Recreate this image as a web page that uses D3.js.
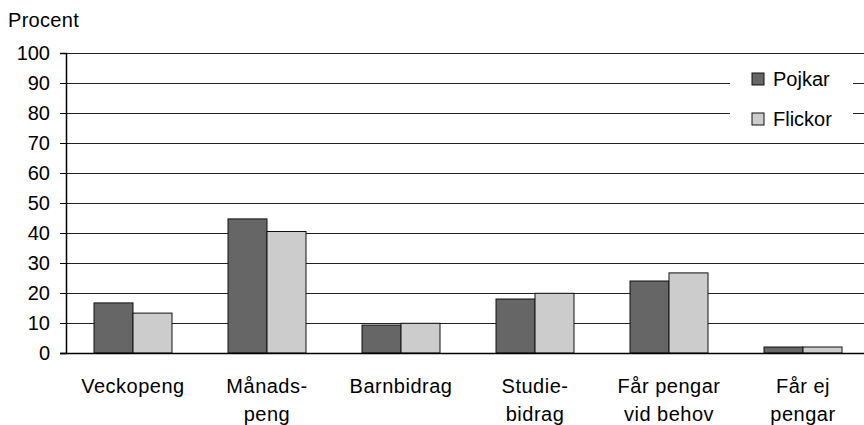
<!DOCTYPE html>
<html>
<head>
<meta charset="utf-8">
<script src="https://cdn.jsdelivr.net/npm/d3@7"></script>
<style>
  body { margin: 0; background: #fff; }
  text { font-family: "Liberation Sans", Arial, sans-serif; fill: #000; }
</style>
</head>
<body>
<div id="chart"></div>
<script>
const categories = [["Veckopeng"], ["Månads-", "peng"], ["Barnbidrag"], ["Studie-", "bidrag"], ["Får pengar", "vid behov"], ["Får ej", "pengar"]];
const seriesNames = ["Pojkar", "Flickor"];
const pojkar = [16.7, 44.7, 9.3, 18, 24, 2];
const flickor = [13.3, 40.5, 9.9, 19.9, 26.7, 2];
const yTicks = [0, 10, 20, 30, 40, 50, 60, 70, 80, 90, 100];
const colors = ["#666666", "#cccccc"];

const width = 864, height = 425;
const svg = d3.select("#chart").append("svg").attr("width", width).attr("height", height);

const x0 = d3.scaleBand().domain(d3.range(categories.length)).range([66, 870])
    .paddingInner(0.418).paddingOuter(0.209);
const x1 = d3.scaleBand().domain(seriesNames).range([0, x0.bandwidth()]);
const y = d3.scaleLinear().domain([0, 100]).range([353, 53]);

// grid lines
svg.append("g")
  .selectAll("line")
  .data(yTicks.filter(d => d > 0))
  .enter().append("line")
    .attr("x1", 60).attr("x2", width)
    .attr("y1", d => y(d) + 0.5).attr("y2", d => y(d) + 0.5)
    .attr("stroke", "#222").attr("stroke-width", 1);

// y axis
const yAxis = svg.append("g")
    .attr("transform", "translate(66,0)")
    .call(d3.axisLeft(y).tickValues(yTicks).tickSize(6).tickPadding(10));
yAxis.select(".domain").attr("stroke", "#000").attr("stroke-width", 1.5);
yAxis.selectAll(".tick line").attr("stroke", "#000");
yAxis.selectAll(".tick text").style("font-size", "20px")
    .style("font-family", "'Liberation Sans', Arial, sans-serif").attr("fill", "#000");

svg.append("text").attr("x", 8).attr("y", 27).style("font-size", "20px")
  .style("letter-spacing", "0.3px").text("Procent");

// bars
const data = categories.map((c, i) => ({ i: i, vals: [pojkar[i], flickor[i]] }));
const groups = svg.append("g").selectAll("g")
  .data(data)
  .enter().append("g")
    .attr("transform", d => "translate(" + x0(d.i) + ",0)");
groups.selectAll("rect")
  .data(d => d.vals.map((v, k) => ({ k: k, v: v })))
  .enter().append("rect")
    .attr("x", d => x1(seriesNames[d.k]))
    .attr("y", d => y(d.v))
    .attr("width", x1.bandwidth())
    .attr("height", d => y(0) - y(d.v))
    .attr("fill", d => colors[d.k])
    .attr("stroke", "#111").attr("stroke-width", 1);

// baseline
svg.append("line").attr("x1", 60).attr("x2", width).attr("y1", 353.5).attr("y2", 353.5)
  .attr("stroke", "#000").attr("stroke-width", 1.5);

// category labels
const lab = svg.append("g").selectAll("text")
  .data(categories)
  .enter().append("text")
    .attr("text-anchor", "middle")
    .style("font-size", "20px")
    .style("letter-spacing", "0.5px")
    .attr("x", (d, i) => x0(i) + x0.bandwidth() / 2)
    .attr("y", 393);
lab.each(function(d, i) {
  const el = d3.select(this);
  d.forEach((w, j) => {
    el.append("tspan").attr("x", x0(i) + x0.bandwidth() / 2).attr("y", 393 + 28 * j).text(w);
  });
});

// legend
const legend = svg.append("g");
legend.append("rect").attr("x", 730).attr("y", 60).attr("width", 123).attr("height", 76).attr("fill", "#fff");
seriesNames.forEach((s, k) => {
  const cy = 79 + 40 * k;
  legend.append("rect").attr("x", 752).attr("y", cy - 6).attr("width", 12).attr("height", 12)
    .attr("fill", colors[k]).attr("stroke", "#111").attr("stroke-width", 1);
  legend.append("text").attr("x", 773).attr("y", cy + 7).style("font-size", "20px").text(s);
});
</script>
</body>
</html>
